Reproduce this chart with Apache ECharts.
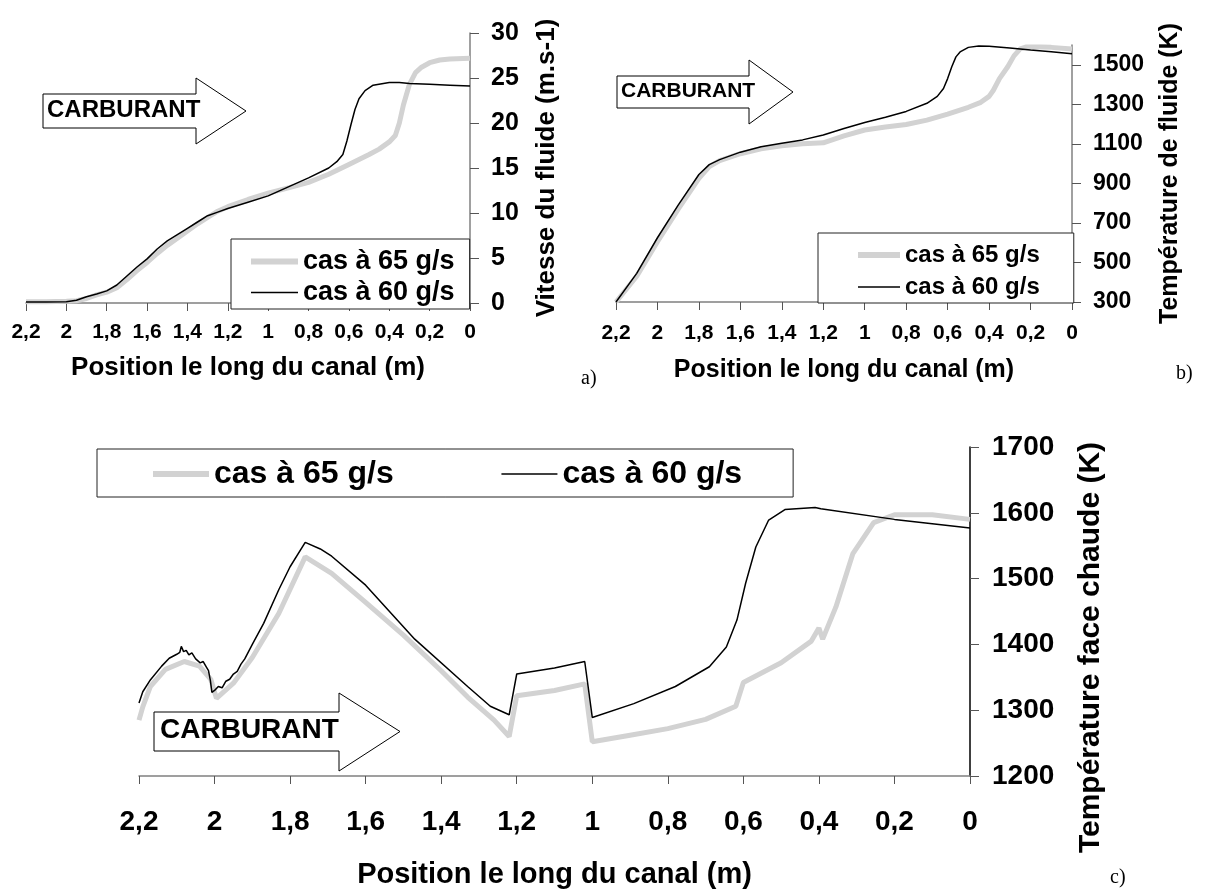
<!DOCTYPE html>
<html>
<head>
<meta charset="utf-8">
<script src="https://cdn.jsdelivr.net/npm/echarts@6/dist/echarts.min.js"></script>
<style>
html, body { margin: 0; background: #fff; }
#main { width: 1209px; height: 892px; }
</style>
</head>
<body>
<div id="main"></div>
<script>
// position le long du canal (m) - communs aux trois graphes
var xTicks = [0, 0.2, 0.4, 0.6, 0.8, 1, 1.2, 1.4, 1.6, 1.8, 2, 2.2];

// a) vitesse du fluide (m/s)
var vTicks = [0, 5, 10, 15, 20, 25, 30];
var aX65 = [2.2, 2.1, 2.0, 1.95, 1.9, 1.85, 1.8, 1.75, 1.7, 1.65, 1.6, 1.55, 1.5, 1.45, 1.4, 1.35, 1.3, 1.25, 1.2, 1.1, 1.0, 0.9, 0.8, 0.7, 0.6, 0.5, 0.45, 0.4, 0.37, 0.35, 0.33, 0.3, 0.27, 0.24, 0.2, 0.15, 0.1, 0];
var aV65 = [0.15, 0.15, 0.2, 0.25, 0.5, 0.9, 1.2, 1.7, 2.6, 3.6, 4.5, 5.5, 6.4, 7.2, 8.0, 8.8, 9.5, 10.2, 10.7, 11.5, 12.2, 12.8, 13.4, 14.3, 15.4, 16.5, 17.1, 17.9, 18.6, 20.0, 22.0, 24.3, 25.6, 26.2, 26.7, 27.0, 27.1, 27.2];
var aX60 = [2.2, 2.1, 2.0, 1.95, 1.9, 1.85, 1.8, 1.75, 1.7, 1.65, 1.6, 1.55, 1.5, 1.45, 1.4, 1.35, 1.3, 1.25, 1.2, 1.1, 1.0, 0.9, 0.8, 0.7, 0.66, 0.63, 0.61, 0.59, 0.57, 0.55, 0.52, 0.48, 0.4, 0.35, 0.3, 0.2, 0.1, 0];
var aV60 = [0.1, 0.1, 0.15, 0.3, 0.7, 1.0, 1.35, 2.0, 3.0, 4.0, 4.9, 6.0, 6.9, 7.6, 8.3, 9.0, 9.7, 10.1, 10.5, 11.2, 11.9, 12.9, 13.9, 15.0, 15.7, 16.5, 18.0, 19.8, 21.5, 22.7, 23.6, 24.2, 24.5, 24.5, 24.4, 24.3, 24.2, 24.1];

// b) température de fluide (K)
var tfTicks = [300, 500, 700, 900, 1100, 1300, 1500];
var bX65 = [2.2, 2.1, 2.0, 1.9, 1.8, 1.75, 1.7, 1.6, 1.5, 1.4, 1.3, 1.2, 1.1, 1.0, 0.9, 0.8, 0.7, 0.6, 0.5, 0.44, 0.4, 0.38, 0.35, 0.31, 0.28, 0.25, 0.22, 0.15, 0.1, 0];
var bT65 = [300, 430, 605, 770, 925, 985, 1015, 1050, 1075, 1090, 1100, 1105, 1140, 1170, 1185, 1198, 1220, 1250, 1285, 1310, 1340, 1370, 1430, 1490, 1545, 1580, 1590, 1590, 1588, 1580];
var bX60 = [2.2, 2.1, 2.0, 1.9, 1.8, 1.75, 1.7, 1.6, 1.5, 1.4, 1.3, 1.2, 1.1, 1.0, 0.9, 0.8, 0.7, 0.65, 0.62, 0.6, 0.58, 0.56, 0.54, 0.5, 0.45, 0.4, 0.3, 0.2, 0.1, 0];
var bT60 = [300, 445, 625, 790, 945, 995, 1020, 1058, 1085, 1103, 1120, 1145, 1178, 1208, 1235, 1264, 1305, 1340, 1380, 1430, 1490, 1540, 1565, 1588, 1595, 1594, 1585, 1575, 1566, 1556];

// c) température face chaude (K)
var tcTicks = [1200, 1300, 1400, 1500, 1600, 1700];
var cX65 = [2.2, 2.19, 2.17, 2.13, 2.08, 2.04, 2.01, 1.995, 1.95, 1.9, 1.83, 1.76, 1.69, 1.6, 1.5, 1.4, 1.33, 1.26, 1.22, 1.2, 1.1, 1.02, 1.0, 0.9, 0.8, 0.7, 0.62, 0.6, 0.5, 0.42, 0.4, 0.39, 0.355, 0.31, 0.255, 0.2, 0.1, 0];
var cT65 = [1285, 1305, 1336, 1362, 1374, 1367, 1347, 1318, 1341, 1380, 1447, 1533, 1508, 1464, 1414, 1360, 1320, 1285, 1260, 1322, 1330, 1340, 1252, 1262, 1272, 1286, 1306, 1342, 1372, 1405, 1425, 1408, 1457, 1538, 1585, 1597, 1597, 1590];
var cX60 = [2.2, 2.19, 2.17, 2.14, 2.12, 2.1, 2.092, 2.088, 2.082, 2.075, 2.068, 2.06, 2.05, 2.045, 2.038, 2.03, 2.022, 2.016, 2.011, 2.007, 2.0, 1.99, 1.98, 1.97, 1.96, 1.95, 1.94, 1.93, 1.92, 1.91, 1.9, 1.87, 1.83, 1.8, 1.76, 1.72, 1.69, 1.6, 1.47, 1.33, 1.27, 1.22, 1.2, 1.1, 1.02, 1.0, 0.89, 0.78, 0.69, 0.645, 0.617, 0.594, 0.567, 0.533, 0.49, 0.41, 0.395, 0.39, 0.2, 0];
var cT60 = [1311, 1328, 1346, 1367, 1379, 1385, 1388, 1397, 1389, 1391, 1384, 1387, 1378, 1381, 1372, 1374, 1366, 1360, 1345, 1327, 1330, 1336, 1334, 1344, 1347, 1355, 1359, 1370, 1378, 1389, 1400, 1432, 1483, 1518, 1555, 1545, 1534, 1490, 1408, 1336, 1306, 1293, 1355, 1364, 1374, 1289, 1310, 1336, 1366, 1396, 1437, 1493, 1548, 1589, 1605, 1608, 1606, 1603, 1590, 1577];

var NOM65 = 'cas à 65 g/s', NOM60 = 'cas à 60 g/s';
var POLICE = '"Liberation Sans", Arial, sans-serif';
var GRIS = '#d2d2d2';

function paires(xs, ys) {
    return xs.map(function(x, i) { return [x, ys[i]]; });
}
function virgule(v) {
    return String(Math.round(v * 10) / 10).replace('.', ',');
}

// axe des positions (inversé : 2,2 à gauche, 0 à droite)
function axeX(grid, taille, marge, nomGap, nomTaille) {
    return {
        type: 'value', gridIndex: grid, inverse: true, min: 0, max: 2.2,
        position: 'bottom',
        name: 'Position le long du canal (m)', nameLocation: 'middle', nameGap: nomGap,
        nameTextStyle: { fontFamily: POLICE, fontWeight: 'bold', fontSize: nomTaille, color: '#000' },
        axisLine: { show: true, lineStyle: { color: '#808080', width: 1.5 } },
        axisTick: { show: true, length: 8, customValues: xTicks, lineStyle: { color: '#555' } },
        axisLabel: { customValues: xTicks, formatter: virgule, margin: marge,
            fontFamily: POLICE, fontWeight: 'bold', fontSize: taille, color: '#000' },
        splitLine: { show: false }
    };
}
function axeY(grid, min, max, ticks, nom, taille, nomGap, nomTaille, couleur, nomPad) {
    return {
        type: 'value', gridIndex: grid, min: min, max: max, position: 'right',
        name: nom, nameLocation: 'middle', nameGap: nomGap,
        nameTextStyle: { fontFamily: POLICE, fontWeight: 'bold', fontSize: nomTaille, color: '#000', padding: nomPad || 0 },
        axisLine: { show: true, lineStyle: { color: couleur, width: 1.5 } },
        axisTick: { show: true, length: 9, customValues: ticks, lineStyle: { color: '#555' } },
        axisLabel: { customValues: ticks, margin: 21, formatter: function(v) { return String(v); },
            fontFamily: POLICE, fontWeight: 'bold', fontSize: taille, color: '#000' },
        splitLine: { show: false }
    };
}
function courbe(nom, idx, data, epais) {
    return {
        name: nom, type: 'line', xAxisIndex: idx, yAxisIndex: idx, data: data,
        symbol: 'none', smooth: false, animation: false,
        lineStyle: epais ? { color: GRIS, width: 5 } : { color: '#000', width: 1.5 },
        itemStyle: { color: epais ? GRIS : '#000' },
        z: epais ? 2 : 3
    };
}
function legende(left, top, pad, largeur, taille, gap, vertical) {
    return {
        data: [
            { name: NOM65, lineStyle: { color: GRIS, width: 6 } },
            { name: NOM60, lineStyle: { color: '#000', width: 1.5 } }
        ],
        left: left, top: top, orient: vertical ? 'vertical' : 'horizontal',
        padding: pad, itemWidth: largeur, itemHeight: 6, itemGap: gap,
        itemStyle: { opacity: 0 },
        borderColor: '#222', borderWidth: 1, backgroundColor: '#fff',
        selectedMode: false,
        textStyle: { fontFamily: POLICE, fontWeight: 'bold', fontSize: taille, color: '#000', lineHeight: taille }
    };
}
// flèche "CARBURANT" (annotation)
function fleche(g, d, h, b, col, ht, hb, pointe, taille) {
    var my = (h + b) / 2;
    return [{
        type: 'polygon', z: 10,
        shape: { points: [[g, h], [col, h], [col, ht], [pointe, my], [col, hb], [col, b], [g, b]] },
        style: { fill: '#fff', stroke: '#000', lineWidth: 1 }
    }, {
        type: 'text', z: 11, left: d, top: my - taille / 2 - 1,
        style: { text: 'CARBURANT', font: 'bold ' + taille + 'px ' + POLICE, fill: '#000' }
    }];
}

var chart = echarts.init(document.getElementById('main'));
chart.setOption({
    backgroundColor: '#fff',
    animation: false,
    grid: [
        { left: 26, top: 33, width: 444, height: 270 },
        { left: 616, top: 45, width: 456, height: 257 },
        { left: 139, top: 447, width: 831, height: 329 }
    ],
    xAxis: [
        axeX(0, 21, 19, 52, 26),
        axeX(1, 21, 21, 56, 25),
        axeX(2, 28, 32, 84, 29)
    ],
    yAxis: [
        axeY(0, 0, 30, vTicks, 'Vitesse du fluide (m.s-1)', 25, 64, 26, '#808080'),
        axeY(1, 300, 1600, tfTicks, 'Température de fluide (K)', 23, 86, 25, '#808080'),
        (function() {
            var y = axeY(2, 1200, 1700, tcTicks, 'Température face chaude (K)', 28, 106, 30, '#000', [0, 72, 0, 0]);
            y.axisLabel.margin = 22;
            return y;
        })()
    ],
    legend: [
        legende(231, 239, [9, 15, 3, 17], 47, 27, 4, true),
        legende(818, 233, [10, 34, 4, 37], 42, 24, 8, true),
        legende(97, 449, [9, 51, 7, 53], 56, 32, 107, false)
    ],
    series: [
        courbe(NOM65, 0, paires(aX65, aV65), true),
        courbe(NOM60, 0, paires(aX60, aV60), false),
        courbe(NOM65, 1, paires(bX65, bT65), true),
        courbe(NOM60, 1, paires(bX60, bT60), false),
        courbe(NOM65, 2, paires(cX65, cT65), true),
        courbe(NOM60, 2, paires(cX60, cT60), false)
    ],
    graphic: [].concat(
        fleche(43, 47, 94, 128, 196, 78, 144, 246, 24),
        fleche(617, 621, 76, 108, 749, 60, 124, 793, 21),
        fleche(154, 160, 712, 751, 339, 693, 771, 400, 28),
        [
            { type: 'text', left: 581, top: 369, style: { text: 'a)', font: '20px "Liberation Serif", serif', fill: '#000' } },
            { type: 'text', left: 1176, top: 364, style: { text: 'b)', font: '20px "Liberation Serif", serif', fill: '#000' } },
            { type: 'text', left: 1110, top: 868, style: { text: 'c)', font: '20px "Liberation Serif", serif', fill: '#000' } }
        ]
    )
});
window.onresize = function() { chart.resize(); };
</script>
</body>
</html>
